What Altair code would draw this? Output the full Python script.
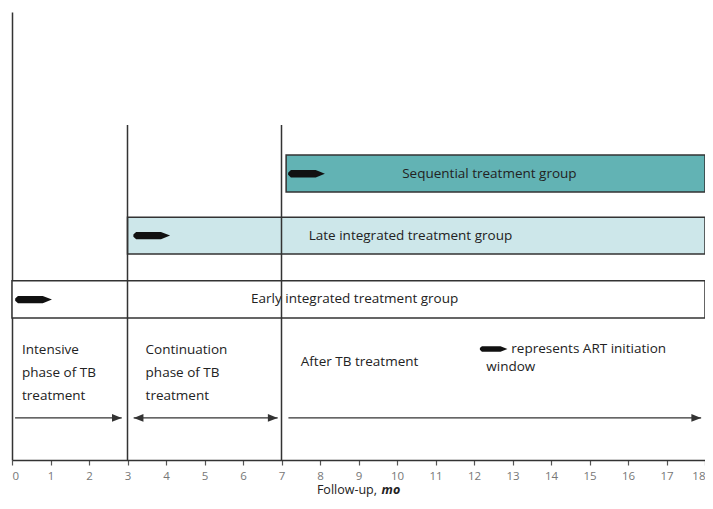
import altair as alt
import pandas as pd

# ---- data ----
groups = ["Sequential treatment group", "Late integrated treatment group", "Early integrated treatment group"]
group_start = [7.12, 3.0, 0.0]
group_end = [18.0, 18.0, 18.0]
group_lo = [59.8, 46.0, 31.7]
group_hi = [68.1, 54.2, 40.0]
group_fill = ["#62b3b4", "#cde7ea", "#ffffff"]
label_x = [12.4, 10.35, 8.9]

art_start = [7.2, 3.11, 0.08]
art_end = [8.1, 4.15, 1.04]
art_lane = [63.9, 50.1, 35.8]
legend_pill_x = [12.16, 12.86]
legend_pill_y = 24.8

phase_lines_x = [3, 7]
phase_lines_top = 74.8

arrow_from = [0.08, 3.16, 7.18]
arrow_to = [2.85, 6.9, 17.9]
arrow_lane = 9.4
arrow_double = [False, True, False]

notes = ["Intensive", "phase of TB", "treatment",
         "Continuation", "phase of TB", "treatment",
         "After TB treatment",
         "represents ART initiation", "window"]
notes_x = [0.26, 0.26, 0.26, 3.47, 3.47, 3.47, 7.5, 12.97, 12.32]
notes_y = [24.6, 19.4, 14.3, 24.6, 19.4, 14.3, 21.9, 24.8, 20.8]

ticks = list(range(0, 19))

FONT = "Open Sans"
INK = "#333333"
FS = 13.5

xs = alt.Scale(domain=[0, 18], nice=False, zero=False)
ys = alt.Scale(domain=[0, 100], nice=False, zero=False)
xax = alt.Axis(values=ticks, title=None, grid=False, domainColor=INK, domainWidth=1.5,
               tickColor="#555", tickSize=5, tickWidth=1.2, labelColor="#777", labelFont=FONT,
               labelFontSize=11.5, labelPadding=5, labelFlush=True, labelOverlap=False)
yax = alt.Axis(title=None, labels=False, ticks=False, grid=False, domainColor=INK, domainWidth=1.5)


def X(f):
    return alt.X(f, scale=xs, axis=xax)


def Y(f):
    return alt.Y(f, scale=ys, axis=yax)


bars_df = pd.DataFrame({"group": groups, "x": group_start, "x2": group_end,
                        "y": group_lo, "y2": group_hi, "fill": group_fill,
                        "lx": label_x, "ly": [(a + b) / 2 for a, b in zip(group_lo, group_hi)]})

bars = alt.Chart(bars_df).mark_rect(stroke=INK, strokeWidth=1.5).encode(
    x=X("x:Q"), x2="x2:Q", y=Y("y:Q"), y2="y2:Q", fill=alt.Fill("fill:N", scale=None))

bar_labels = alt.Chart(bars_df).mark_text(font=FONT, fontSize=FS, color="#222").encode(
    x=X("lx:Q"), y=Y("ly:Q"), text="group:N")

vlines = alt.Chart(pd.DataFrame({"x": phase_lines_x, "y": [0, 0], "y2": [phase_lines_top] * 2})).mark_rule(
    color=INK, strokeWidth=1.5).encode(x=X("x:Q"), y=Y("y:Q"), y2="y2:Q")

pill_path = "M -1 -0.06 L -0.85 -0.2 L 0.5 -0.2 L 1 0 L 0.5 0.2 L -0.85 0.2 L -1 0.06 Z"
art_df = pd.DataFrame({"xc": [(a + b) / 2 for a, b in zip(art_start, art_end)], "y": art_lane})
pills = alt.Chart(art_df).mark_point(shape=pill_path, filled=True, color="#111", opacity=1,
                                     size=1350, strokeWidth=0).encode(x=X("xc:Q"), y=Y("y:Q"))
leg_df = pd.DataFrame({"xc": [sum(legend_pill_x) / 2], "y": [legend_pill_y]})
legend_pill = alt.Chart(leg_df).mark_point(shape=pill_path, filled=True, color="#111", opacity=1,
                                           size=760, strokeWidth=0).encode(x=X("xc:Q"), y=Y("y:Q"))

arr_df = pd.DataFrame({"x": arrow_from, "x2": arrow_to, "y": [arrow_lane] * 3})
shafts = alt.Chart(arr_df).mark_rule(color=INK, strokeWidth=1.3).encode(
    x=X("x:Q"), x2="x2:Q", y=Y("y:Q"))
head_right = alt.Chart(arr_df).mark_point(shape="M 0 0 L -1 -0.4 L -1 0.4 Z", filled=True,
                                         color=INK, opacity=1, size=380, strokeWidth=0).encode(
    x=X("x2:Q"), y=Y("y:Q"))
left_df = pd.DataFrame({"x": [f for f, d in zip(arrow_from, arrow_double) if d], "y": [arrow_lane]})
head_left = alt.Chart(left_df).mark_point(shape="M 0 0 L 1 -0.4 L 1 0.4 Z", filled=True,
                                          color=INK, opacity=1, size=380, strokeWidth=0).encode(
    x=X("x:Q"), y=Y("y:Q"))

notes_df = pd.DataFrame({"t": notes, "x": notes_x, "y": notes_y})
note_text = alt.Chart(notes_df).mark_text(font=FONT, fontSize=FS, color="#222", align="left").encode(
    x=X("x:Q"), y=Y("y:Q"), text="t:N")

title_df = pd.DataFrame({"t": ["Follow-up,"], "x": [7.92], "y": [-6.8]})
title1 = alt.Chart(title_df).mark_text(font=FONT, fontSize=12.5, color="#222", align="left").encode(
    x=X("x:Q"), y=Y("y:Q"), text="t:N")
title_df2 = pd.DataFrame({"t": ["mo"], "x": [9.6], "y": [-6.8]})
title2 = alt.Chart(title_df2).mark_text(font=FONT, fontSize=12.5, fontStyle="italic", fontWeight="bold",
                                        color="#222", align="left").encode(
    x=X("x:Q"), y=Y("y:Q"), text="t:N")

chart = alt.layer(bars, bar_labels, vlines, pills, legend_pill, shafts, head_right, head_left,
                  note_text, title1, title2).properties(
    width=693, height=448,
    autosize=alt.AutoSizeParams(type="none"),
    padding={"left": 4, "top": 4, "right": 0, "bottom": 40},
    background="white",
).configure_view(stroke=None)

chart.save("out.html", embed_options={"renderer": "svg", "actions": False})
